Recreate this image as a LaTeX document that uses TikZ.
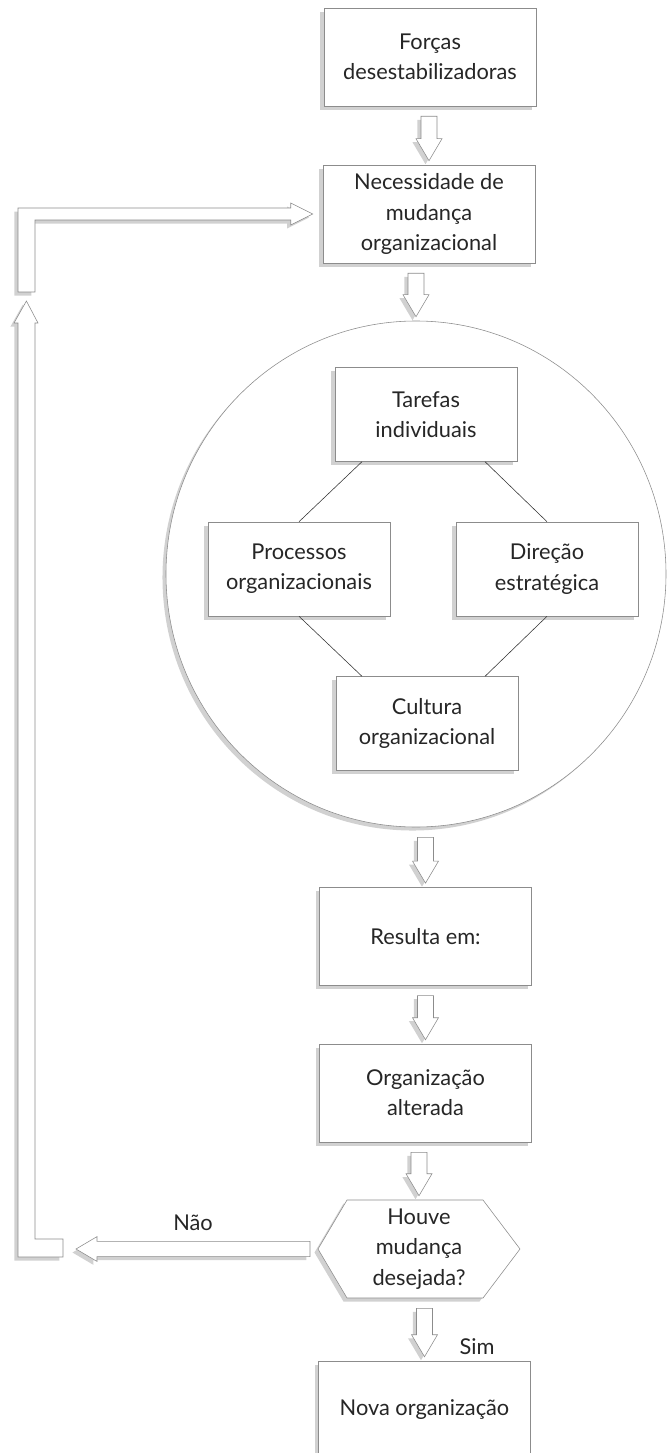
\documentclass[tikz,border=0pt]{standalone}
\usepackage{fontspec}
\setmainfont{Lato}
\usetikzlibrary{calc,shadows,shapes.geometric}

\newcommand{\boxtext}{\fontsize{15.5}{21.5}\selectfont}

\tikzset{
  shade/.style={drop shadow={shadow xshift=-2.5pt, shadow yshift=-2.5pt, fill=black!18, opacity=1}},
  stage/.style={draw=black!45, fill=white, shade, align=center, text=black!85, font=\boxtext,
    minimum width=5.3cm, minimum height=2.45cm, inner sep=2pt},
  facet/.style={stage, minimum width=4.55cm, minimum height=2.35cm},
  ring/.style={ellipse, draw=black!45, fill=white, shade, minimum width=12.5cm, minimum height=12.65cm},
  link/.style={draw=black!80, thin},
  fatarrow/.style={draw=black!45, fill=white, shade, line join=miter},
  tag/.style={text=black!85, font=\boxtext}
}

% fat block arrow pointing down, from node #1 to node #2
\newcommand{\fatdown}[2]{%
  \draw[fatarrow] ($(#1.south -| #2.north)+(-0.2,-0.25)$) |- ($(#2.north)+(-0.325,0.65)$)
    -- ($(#2.north)+(0,0.1)$) -- ($(#2.north)+(0.325,0.65)$)
    -| ($(#1.south -| #2.north)+(0.2,-0.25)$) -- cycle;}

\begin{document}
\begin{tikzpicture}
  \useasboundingbox (0,0) rectangle (16.675,-36.325);

  \node[stage] (forcas) at (10.75,-1.425) {Forças\\desestabilizadoras};
  \node[stage] (necess) at (10.725,-5.35) {Necessidade de\\mudança\\organizacional};

  \node[ring] (ring) at (10.4,-14.35) {};
  \node[facet] (tarefas) at (10.65,-10.36) {Tarefas\\individuais};
  \node[facet] (processos) at (7.475,-14.225) {Processos\\organizacionais};
  \node[facet] (direcao) at (13.675,-14.225) {Direção\\estratégica};
  \node[facet] (cultura) at (10.675,-18.09) {Cultura\\organizacional};

  \draw[link] ([xshift=-1.6cm]tarefas.south) -- (processos.north);
  \draw[link] ([xshift=1.475cm]tarefas.south) -- (direcao.north);
  \draw[link] (processos.south) -- ([xshift=-1.625cm]cultura.north);
  \draw[link] (direcao.south) -- ([xshift=1.45cm]cultura.north);

  \node[stage] (resulta) at (10.6375,-23.41) {Resulta em:};
  \node[stage] (alterada) at (10.6375,-27.325) {Organização\\alterada};

  % decision hexagon
  \coordinate (hexc) at (10.475,-31.225);
  \draw[fatarrow] ($(hexc)+(-2.525,0)$) -- ($(hexc)+(-1.8,1.225)$) -- ($(hexc)+(1.6,1.225)$)
    -- ($(hexc)+(2.525,0)$) -- ($(hexc)+(1.6,-1.225)$) -- ($(hexc)+(-1.8,-1.225)$) -- cycle;
  \node[tag, align=center, minimum width=5.05cm, minimum height=2.45cm, inner sep=0pt] (houve) at (hexc)
    {Houve\\mudança\\desejada?};

  \node[stage] (nova) at (10.6125,-35.25) {Nova organização};

  \fatdown{forcas}{necess}
  \fatdown{necess}{ring}
  \fatdown{ring}{resulta}
  \fatdown{resulta}{alterada}
  \fatdown{alterada}{houve}
  \fatdown{houve}{nova}

  % way back when the change did not happen
  \coordinate (naotip) at (1.9,-31.225);
  \draw[fatarrow] ($(hexc)+(-2.725,0.19)$) -- ($(naotip)+(0.525,0.19)$) -- ($(naotip)+(0.525,0.31)$)
    -- (naotip) -- ($(naotip)+(0.525,-0.31)$) -- ($(naotip)+(0.525,-0.19)$)
    -- ($(hexc)+(-2.725,-0.19)$) -- cycle;
  \draw[fatarrow] (0.45,-31.425) -- (1.575,-31.425) -- (1.575,-30.975) -- (0.875,-30.975)
    -- (0.875,-8.075) -- (0.95,-8.075) -- (0.66,-7.525) -- (0.35,-8.075) -- (0.45,-8.075) -- cycle;
  \draw[fatarrow] (0.45,-7.3) -- (0.45,-5.2) -- ($(necess.west)+(-0.8,0.15)$) -- ($(necess.west)+(-0.8,0.275)$)
    -- ($(necess.west)+(-0.25,0)$) -- ($(necess.west)+(-0.8,-0.275)$) -- ($(necess.west)+(-0.8,-0.15)$)
    -- (0.875,-5.5) -- (0.875,-7.3) -- cycle;

  \node[tag] (nao) at (4.825,-30.575) {Não};
  \node[tag] (sim) at (11.925,-33.675) {Sim};
\end{tikzpicture}
\end{document}
